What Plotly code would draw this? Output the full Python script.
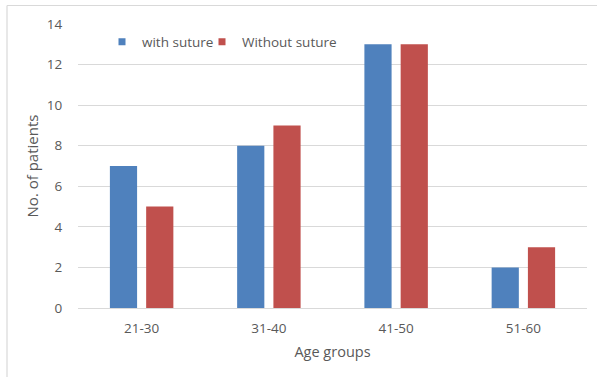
import plotly.graph_objects as go

categories = ["21-30", "31-40", "41-50", "51-60"]
with_suture = [7, 8, 13, 2]
without_suture = [5, 9, 13, 3]
series_names = ["with suture", "Without suture"]
colors = ["#4F81BD", "#C0504D"]

W, H = 597, 377
ml, mr, mt, mb = 78, 10, 24, 69
pw = W - ml - mr
ph = H - mt - mb

font_family = "Open Sans, Noto Sans, sans-serif"
grey = "#595959"
line_grey = "#D9D9D9"

fig = go.Figure()
for name, vals, col in zip(series_names, [with_suture, without_suture], colors):
    fig.add_trace(go.Bar(x=categories, y=vals, name=name, marker_color=col,
                         marker_line_width=0, showlegend=False))
for name, col, lg in zip(series_names, colors, ["legend", "legend2"]):
    fig.add_trace(go.Scatter(x=[None], y=[None], mode="markers", name=name,
                             legend=lg,
                             marker=dict(symbol="square", size=7, color=col)))

# chart border (top and left visible)
bx = (7 - ml) / pw
by = (H - mb - 5.5) / ph
fig.add_shape(type="line", xref="paper", yref="paper", x0=bx, x1=(W + 5 - ml) / pw,
              y0=by, y1=by, line=dict(color=line_grey, width=1.2))
fig.add_shape(type="line", xref="paper", yref="paper", x0=bx, x1=bx,
              y0=by, y1=-(mb + 5) / ph, line=dict(color=line_grey, width=1.2))

legend_common = dict(orientation="h", y=(H - mb - 42) / ph, xanchor="left",
                     yanchor="middle", bgcolor="rgba(0,0,0,0)",
                     font=dict(size=13.5, color=grey), itemwidth=30)

fig.update_layout(
    width=W, height=H,
    margin=dict(l=ml, r=mr, t=mt, b=mb),
    paper_bgcolor="white", plot_bgcolor="white",
    barmode="group", bargap=0.43, bargroupgap=0.25,
    font=dict(family=font_family, size=13, color=grey),
    legend=dict(x=(102 - ml) / pw, **legend_common),
    legend2=dict(x=(202 - ml) / pw, **legend_common),
    xaxis=dict(showgrid=False, showline=True, linecolor=line_grey, linewidth=1,
               ticks="outside", ticklen=8, tickcolor="rgba(0,0,0,0)",
               tickfont=dict(size=13.5),
               title=dict(text="Age groups", standoff=10,
                          font=dict(size=14.5, color=grey))),
    yaxis=dict(range=[0, 14], dtick=2, showgrid=True, gridcolor=line_grey,
               gridwidth=1, zeroline=False, showline=False,
               ticks="outside", ticklen=12, tickcolor="rgba(0,0,0,0)",
               tickfont=dict(size=13.5),
               title=dict(text="No. of patients", standoff=4,
                          font=dict(size=15, color=grey))),
)

fig.write_html("out.html", config={"displayModeBar": False},
               post_script="document.body.style.margin='0';")
